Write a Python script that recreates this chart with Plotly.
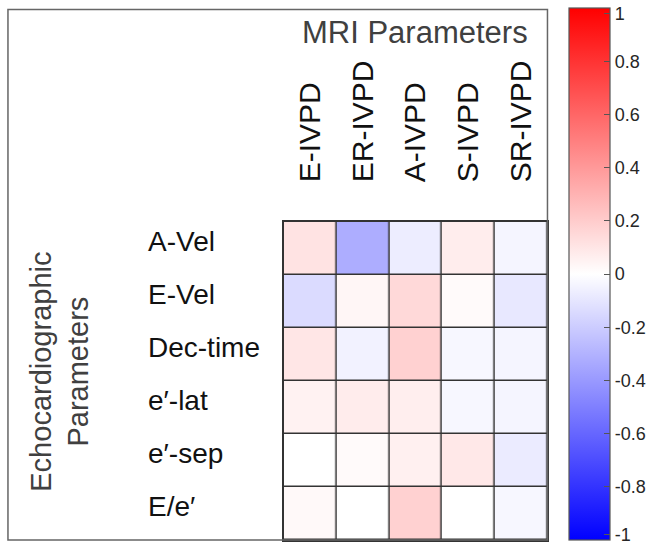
import plotly.graph_objects as go

mri_params = ["E-IVPD", "ER-IVPD", "A-IVPD", "S-IVPD", "SR-IVPD"]
echo_params = ["A-Vel", "E-Vel", "Dec-time", "e\u2032-lat", "e\u2032-sep", "E/e\u2032"]

corr_a_vel = [0.11, -0.32, -0.07, 0.07, -0.04]
corr_e_vel = [-0.14, 0.035, 0.15, 0.02, -0.09]
corr_dec_time = [0.10, -0.05, 0.18, -0.03, -0.04]
corr_e_lat = [0.05, 0.075, 0.065, -0.03, -0.04]
corr_e_sep = [0.0, 0.02, 0.06, 0.09, -0.08]
corr_e_over_e = [0.025, 0.0, 0.18, 0.0, -0.03]

z = [corr_a_vel, corr_e_vel, corr_dec_time, corr_e_lat, corr_e_sep, corr_e_over_e]

cbar_vals = [-0.98, -0.8, -0.6, -0.4, -0.2, 0, 0.2, 0.4, 0.6, 0.8, 0.98]
cbar_text = ["-1", "-0.8", "-0.6", "-0.4", "-0.2", "0", "0.2", "0.4", "0.6", "0.8", "1"]

W, H = 653, 547
FONT = "Liberation Sans, Arial, sans-serif"

fig = go.Figure(go.Heatmap(
    z=z, x=mri_params, y=echo_params,
    zmin=-1, zmax=1,
    colorscale=[[0, "rgb(0,0,255)"], [0.5, "rgb(255,255,255)"], [1, "rgb(255,0,0)"]],
    xgap=1.5, ygap=1.5,
    colorbar=dict(
        x=572 / W, xanchor="left", xpad=0,
        y=(H - 274) / H, yanchor="middle", ypad=0,
        len=(540 - 8.3) / H, lenmode="fraction",
        thickness=41, thicknessmode="pixels",
        outlinewidth=1.2, outlinecolor="#555555",
        ticks="inside", ticklen=6, tickcolor="#555555", tickwidth=1.2,
        tickvals=cbar_vals, ticktext=cbar_text,
        ticklabeloverflow="allow",
        tickfont=dict(family=FONT, size=18, color="#262626"),
    ),
    hoverinfo="skip",
))

fig.update_layout(
    width=W, height=H, autosize=False,
    margin=dict(l=0, r=0, t=0, b=0, pad=0),
    paper_bgcolor="white", plot_bgcolor="#333333",
    font=dict(family=FONT),
    xaxis=dict(
        domain=[285 / W, 550 / W], side="top", tickangle=-90,
        tickfont=dict(family=FONT, size=30, color="#111111"),
        ticks="", ticklabelstandoff=32,
        showline=True, mirror=True, linecolor="#333333", linewidth=1.5,
        showgrid=False, zeroline=False,
    ),
    yaxis=dict(
        domain=[(H - 540) / H, (H - 222) / H], autorange="reversed",
        showticklabels=False, ticks="",
        showline=True, mirror=True, linecolor="#333333", linewidth=1.5,
        showgrid=False, zeroline=False,
    ),
    shapes=[dict(
        type="rect", xref="paper", yref="paper",
        x0=8 / W, x1=550 / W, y0=(H - 540) / H, y1=(H - 9.5) / H,
        line=dict(color="#666666", width=1.5), fillcolor="rgba(0,0,0,0)",
        layer="above",
    )],
)

annotations = []
for name in echo_params:
    annotations.append(dict(
        x=147 / W, xref="paper", xanchor="left",
        y=name, yref="y", yanchor="middle", yshift=7,
        text=name, showarrow=False,
        font=dict(family=FONT, size=28, color="#111111"),
    ))
annotations.append(dict(
    x=417 / W, xref="paper", xanchor="center",
    y=(H - 32) / H, yref="paper", yanchor="middle",
    text="MRI Parameters", showarrow=False,
    font=dict(family=FONT, size=31, color="#404040"),
))
annotations.append(dict(
    x=60 / W, xref="paper", xanchor="center",
    y=(H - 372) / H, yref="paper", yanchor="middle",
    text="Echocardiographic<br>Parameters", showarrow=False, textangle=-90,
    font=dict(family=FONT, size=29, color="#404040"),
))
fig.update_layout(annotations=annotations)

fig.write_html("out.html")
